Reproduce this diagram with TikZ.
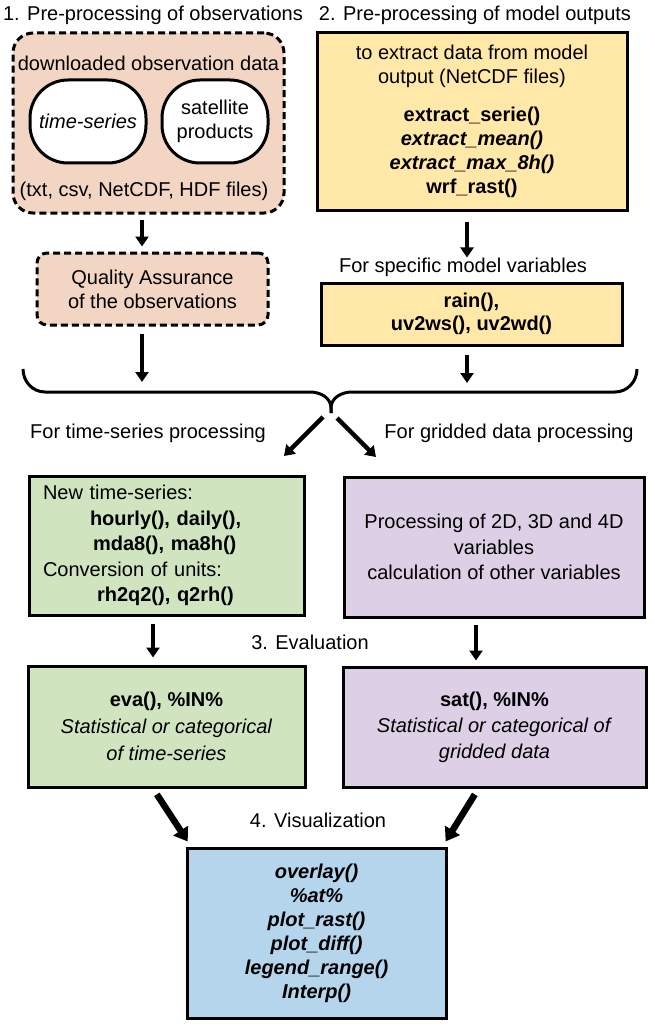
\documentclass[tikz,border=0pt]{standalone}
\usepackage{fontspec}
\setmainfont{Liberation Sans}
\usepackage{tikz}
\usetikzlibrary{arrows.meta, calc}
\definecolor{obsfill}{HTML}{F2D5C3}
\definecolor{modfill}{HTML}{FFE8A8}
\definecolor{tsfill}{HTML}{D1E4C0}
\definecolor{grdfill}{HTML}{DDD0E6}
\definecolor{visfill}{HTML}{B4D5EC}

\begin{document}
\begin{tikzpicture}[x=1pt, y=-1pt,
  font=\fontsize{20}{24}\selectfont,
  box/.style={draw, line width=3pt, align=center},
  dbox/.style={draw, line width=3pt, dash pattern=on 7pt off 4pt, fill=obsfill},
  bubble/.style={draw, line width=3pt, fill=white, rounded corners=38pt, align=center},
  lbl/.style={inner sep=0pt, align=center},
  arr/.style={line width=4.5pt, -{Triangle[length=10pt,width=13pt]}},
  bigarr/.style={line width=6.5pt, -{Triangle[length=13pt,width=17pt]}}]
  \useasboundingbox (0,0) rectangle (654,1027);
  % headings
  \node[lbl] (title1) at (153,15) {1. Pre-processing of observations};
  \node[lbl] (title2) at (475,15) {2. Pre-processing of model outputs};
  % observations
  \node[dbox, rounded corners=20pt, minimum width=271pt, minimum height=180pt] (obs) at (148.5,123) {};
  \node[lbl] (dl) at (148.5,63) {downloaded observation data};
  \node[bubble, minimum width=116pt, minimum height=83pt] (ts) at (88,121.5) {\itshape time-series};
  \node[bubble, minimum width=106pt, minimum height=83pt] (sat) at (215,121.5) {satellite\\products};
  \node[lbl] (files) at (144,191) {(txt, csv, NetCDF, HDF files)};
  \node[dbox, rounded corners=10pt, minimum width=231pt, minimum height=72pt, align=center] (qa) at (152.5,289)
    {Quality Assurance\\of the observations};
  % model outputs
  \node[box, fill=modfill, minimum width=310pt, minimum height=177pt] (model) at (472,121.5)
    {to extract data from model\\output (NetCDF files)\\[14pt]
     \textbf{extract\_serie()}\\\textbf{\itshape extract\_mean()}\\
     \textbf{\itshape extract\_max\_8h()}\\\textbf{wrf\_rast()}};
  \node[lbl] (speclab) at (463,267) {For specific model variables};
  \node[box, fill=modfill, minimum width=301pt, minimum height=62pt,
        font=\fontsize{20}{23}\selectfont\bfseries] (rain) at (471.5,314) {rain(),\\uv2ws(), uv2wd()};
  % brace
  \coordinate (cusp) at (331,413);
  \draw[line width=3pt] (23,369) to[out=-90,in=180] (45,392) -- (310,392) to[out=0,in=90] (331,408) -- (cusp);
  \draw[line width=3pt] (cusp) -- (331,408) to[out=90,in=180] (352,392) -- (615,392) to[out=0,in=-90] (637,369);
  \coordinate (bl) at (142,382);
  \coordinate (br) at (467,383);
  \coordinate (tsin) at (284,456);
  \coordinate (grin) at (376,457);
  \node[lbl] (tslab) at (148,433) {For time-series processing};
  \node[lbl] (grlab) at (509,433) {For gridded data processing};
  % processing
  \node[box, fill=tsfill, minimum width=275pt, minimum height=139pt, text width=247pt, align=left,
        font=\fontsize{20}{25.5}\selectfont] (g1) at (166.5,545.5)
    {New time-series:\\\hspace*{47pt}\textbf{hourly(), daily(),}\\\hspace*{50pt}\textbf{mda8(), ma8h()}\\
     Conversion of units:\\\hspace*{54pt}\textbf{rh2q2(), q2rh()}};
  \node[box, fill=grdfill, minimum width=300pt, minimum height=140pt,
        font=\fontsize{20}{25.5}\selectfont] (p1) at (494,547)
    {Processing of 2D, 3D and 4D\\variables\\calculation of other variables};
  % evaluation
  \node[lbl] (evallab) at (310,642) {3. Evaluation};
  \node[box, fill=tsfill, minimum width=277pt, minimum height=121pt,
        font=\fontsize{20}{27}\selectfont] (g2) at (166.5,726.5)
    {\textbf{eva(), \%IN\%}\\\textit{Statistical or categorical}\\\textit{of time-series}};
  \node[box, fill=grdfill, minimum width=303pt, minimum height=120pt,
        font=\fontsize{20}{26}\selectfont] (p2) at (494.5,727)
    {\textbf{sat(), \%IN\%}\\\textit{Statistical or categorical of}\\\textit{gridded data}};
  % visualization
  \node[lbl] (vislab) at (318,820) {4. Visualization};
  \node[box, fill=visfill, minimum width=259pt, minimum height=170pt,
        font=\fontsize{20}{24}\selectfont\bfseries\itshape] (blue) at (316.5,933)
    {overlay()\\\%at\%\\plot\_rast()\\plot\_diff()\\legend\_range()\\Interp()};
  % arrows
  \draw[arr, shorten <=5pt, shorten >=5pt] (obs.south -| 142,0) -- (qa.north -| 142,0);
  \draw[arr, shorten <=7pt] (qa.south -| 142,0) -- (bl);
  \draw[arr, shorten <=10pt] (model.south -| 467,0) -- (speclab.north -| 467,0);
  \draw[arr, shorten <=8pt] (rain.south -| 467,0) -- (br);
  \draw[arr] ([shift={(-8pt,-4pt)}]cusp) -- (tsin);
  \draw[arr] ([shift={(6pt,-5pt)}]cusp) -- (grin);
  \draw[arr, shorten <=7pt, shorten >=7pt] (g1.south -| 153,0) -- (g2.north -| 153,0);
  \draw[arr, shorten <=6pt, shorten >=5pt] (p1.south -| 476,0) -- (p2.north -| 476,0);
  \draw[bigarr, shorten <=7pt, shorten >=6pt] (g2.south -| 153,0) -- (blue.north -| 191,0);
  \draw[bigarr, shorten <=7pt, shorten >=6pt] (p2.south -| 478.5,0) -- (blue.north -| 442.5,0);
\end{tikzpicture}
\end{document}
